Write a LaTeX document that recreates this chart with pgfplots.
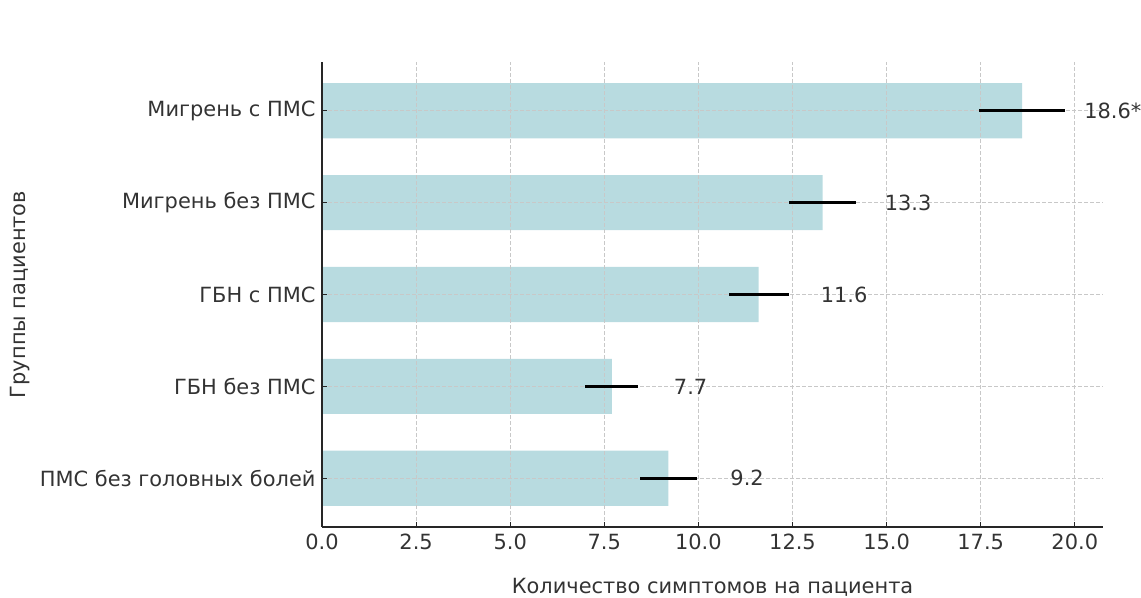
\documentclass[border=0pt]{standalone}
\usepackage{pgfplots}
\usepackage{pgfplotstable}
\pgfplotsset{compat=1.18}
\usepackage{fontspec}
\setmainfont{DejaVu Sans}

\definecolor{barfill}{HTML}{B8DBE0}
\definecolor{txt}{HTML}{333333}
\definecolor{gridc}{HTML}{C8C8C8}

% group index, mean symptoms per patient, error, label
\pgfplotstableread{
i  v     e     lab
0  9.2   0.75  9.2
1  7.7   0.70  7.7
2  11.6  0.80  11.6
3  13.3  0.90  13.3
4  18.6  1.15  18.6*
}\symptoms

\newcommand{\chartfont}{\fontsize{21}{25}\selectfont}

\begin{document}
\begin{tikzpicture}[x=1bp,y=1bp]
\begin{axis}[
  set layers,
  at={(322bp,71bp)}, anchor=south west,
  scale only axis, width=781bp, height=465bp,
  xmin=0, xmax=20.75, ymin=-0.53, ymax=4.53,
  axis x line*=bottom, axis y line*=left,
  axis line style={line width=1.4bp, color=black!85},
  tick align=inside, major tick length=5bp,
  tick style={line width=1bp, color=black!85},
  xtick={0,2.5,...,20}, ytick={0,1,2,3,4},
  yticklabels={ПМС без головных болей, ГБН без ПМС, ГБН с ПМС, Мигрень без ПМС, Мигрень с ПМС},
  /pgf/number format/assume math mode=true,
  xticklabel={\pgfmathprintnumber[fixed, fixed zerofill, precision=1]{\tick}},
  tick label style={font=\chartfont, color=txt},
  xticklabel style={yshift=-3.5bp},
  yticklabel style={xshift=-3bp},
  grid=major,
  major grid style={color=gridc, line width=0.8bp, dash pattern=on 4bp off 2bp},
  xlabel={Количество симптомов на пациента},
  ylabel={Группы пациентов},
  every axis x label/.style={at={(axis description cs:0.5,-0.1440)}, anchor=base,
    font=\chartfont, color=txt},
  every axis y label/.style={at={(axis description cs:-0.3867,0.5)}, rotate=90, anchor=center,
    font=\chartfont, color=txt},
]
% bars, kept below the grid
\addplot[on layer=axis background, xbar, bar width=0.6, fill=barfill, draw=none]
  table[x=v, y=i] {\symptoms};
% error bars
\addplot[draw=none, mark=none,
  error bars/.cd, x dir=both, x explicit, error mark=none,
  error bar style={draw=black, solid, line width=2.5bp}]
  table[x=v, y=i, x error=e] {\symptoms};
% value labels to the right of each bar
\addplot[draw=none, mark=none, nodes near coords, point meta=explicit symbolic,
  nodes near coords style={anchor=west, inner sep=0pt, xshift=5.5bp, font=\chartfont, color=txt}]
  table[x expr=\thisrow{v}+1.5, y=i, meta=lab] {\symptoms};
\end{axis}
\pgfresetboundingbox
\useasboundingbox (0,0) rectangle (1141,598);
\end{tikzpicture}
\end{document}
